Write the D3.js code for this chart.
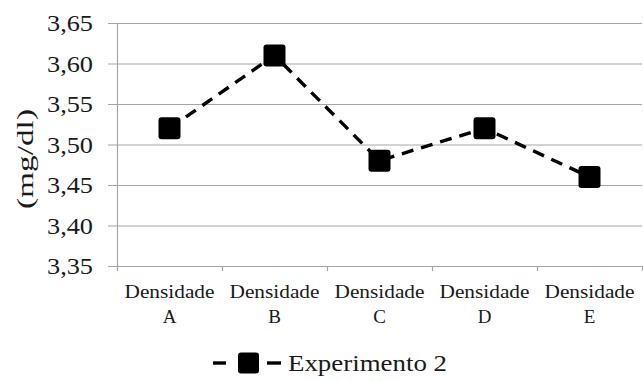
<!DOCTYPE html>
<html>
<head>
<meta charset="utf-8">
<script src="https://cdn.jsdelivr.net/npm/d3@7"></script>
<style>
body { margin: 0; background: #fff; }
</style>
</head>
<body>
<div id="chart"></div>
<script>
var categories = ["Densidade A", "Densidade B", "Densidade C", "Densidade D", "Densidade E"];
var values = [3.52, 3.61, 3.48, 3.52, 3.46];
var yTicks = [3.35, 3.40, 3.45, 3.50, 3.55, 3.60, 3.65];
var seriesName = "Experimento 2";
var yTitle = "(mg/dl)";

var FONT = "'Liberation Serif'";
var W = 643, H = 381;
var margin = { top: 23, right: 0, bottom: 115, left: 117 };
var width = W - margin.left - margin.right - 1,
    height = H - margin.top - margin.bottom;

var svg = d3.select("#chart").append("svg")
    .attr("width", W).attr("height", H);
var g = svg.append("g")
    .attr("transform", "translate(" + margin.left + "," + margin.top + ")");

var x = d3.scaleBand().domain(categories).range([0, width]);
var y = d3.scaleLinear().domain([3.35, 3.65]).range([height, 0]);
var fmt = d => d.toFixed(2).replace(".", ",");

// grid
g.selectAll(".grid").data(yTicks).enter().append("line")
    .attr("x1", -9).attr("x2", width)
    .attr("y1", d => y(d) + 0.5).attr("y2", d => y(d) + 0.5)
    .attr("stroke", "#a6a6a6").attr("stroke-width", 1.2);

// y axis line
g.append("line").attr("x1", 0.5).attr("x2", 0.5)
    .attr("y1", 0).attr("y2", height + 5)
    .attr("stroke", "#a6a6a6").attr("stroke-width", 1.2);

g.selectAll(".ylab").data(yTicks).enter().append("text")
    .attr("x", -24).attr("y", d => y(d))
    .attr("dy", "0.34em").attr("text-anchor", "end")
    .style("font-family", FONT).attr("fill", "#1a1a1a")
    .style("font-size", "24px")
    .attr("textLength", 46).attr("lengthAdjust", "spacingAndGlyphs")
    .text(fmt);

// x ticks
var tickX = categories.map(c => x(c)).concat([width]);
g.selectAll(".xtick").data(tickX).enter().append("line")
    .attr("x1", d => d + 0.5).attr("x2", d => d + 0.5)
    .attr("y1", height).attr("y2", height + 5)
    .attr("stroke", "#a6a6a6").attr("stroke-width", 1.2);

var cx = d => x(d) + x.bandwidth() / 2;
g.selectAll(".xlab1").data(categories).enter().append("text")
    .attr("x", cx).attr("y", height + 32)
    .attr("text-anchor", "middle")
    .style("font-family", FONT).attr("fill", "#1a1a1a")
    .style("font-size", "19px")
    .attr("textLength", 90).attr("lengthAdjust", "spacingAndGlyphs")
    .text(d => d.split(" ")[0]);
g.selectAll(".xlab2").data(categories).enter().append("text")
    .attr("x", cx).attr("y", height + 57)
    .attr("text-anchor", "middle")
    .style("font-family", FONT).attr("fill", "#1a1a1a")
    .style("font-size", "19px")
    .text(d => d.split(" ")[1]);

// y title
svg.append("text")
    .attr("transform", "translate(26,159) rotate(-90)")
    .attr("text-anchor", "middle").attr("dy", "0.3em")
    .style("font-family", FONT).attr("fill", "#1a1a1a")
    .style("font-size", "24px")
    .attr("textLength", 100).attr("lengthAdjust", "spacingAndGlyphs")
    .text(yTitle);

// line
var line = d3.line()
    .x((d, i) => cx(categories[i]))
    .y(d => y(d));
g.append("path").datum(values)
    .attr("d", line).attr("fill", "none")
    .attr("stroke", "#000").attr("stroke-width", 3.4)
    .attr("stroke-dasharray", "12,8");

var ms = 22;
g.selectAll(".mk").data(values).enter().append("rect")
    .attr("x", (d, i) => cx(categories[i]) - ms / 2)
    .attr("y", d => y(d) - ms / 2)
    .attr("width", ms).attr("height", ms)
    .attr("rx", 3).attr("fill", "#000");

// legend
var lg = svg.append("g").attr("transform", "translate(213,363)");
lg.append("line").attr("x1", 0).attr("x2", 13).attr("y1", 0).attr("y2", 0)
    .attr("stroke", "#000").attr("stroke-width", 3.4);
lg.append("line").attr("x1", 54).attr("x2", 68).attr("y1", 0).attr("y2", 0)
    .attr("stroke", "#000").attr("stroke-width", 3.4);
lg.append("rect").attr("x", 25).attr("y", -10.5).attr("width", 21).attr("height", 21)
    .attr("rx", 3).attr("fill", "#000");
lg.append("text").attr("x", 75).attr("y", 8)
    .style("font-family", FONT).attr("fill", "#1a1a1a")
    .style("font-size", "24px")
    .attr("textLength", 159).attr("lengthAdjust", "spacingAndGlyphs")
    .text(seriesName);
</script>
</body>
</html>
